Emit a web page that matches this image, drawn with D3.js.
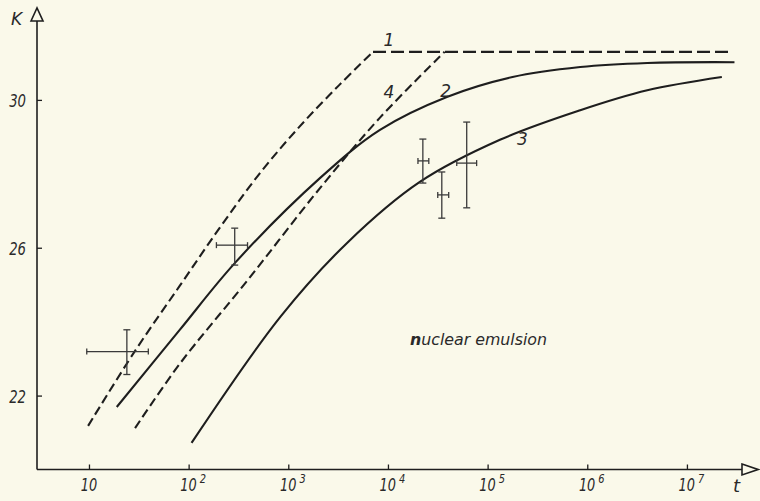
<!DOCTYPE html>
<html>
<head>
<meta charset="utf-8">
<script src="https://cdn.jsdelivr.net/npm/d3@7/dist/d3.min.js"></script>
<style>
  html, body { margin: 0; padding: 0; background: #faf9ea; }
  svg { display: block; }
  text { font-family: "DejaVu Sans", "Liberation Sans", sans-serif; font-style: italic; fill: #2a2a2a; }
</style>
</head>
<body>
<svg id="chart" width="760" height="501"></svg>
<script>
// ---------- data ----------
const xTickValues = [10, 1e2, 1e3, 1e4, 1e5, 1e6, 1e7];
const xTickExps   = ["", "2", "3", "4", "5", "6", "7"];
const yTickValues = [22, 26, 30];

// curve 1 (dashed, rising part up to the knee)
const curve1T = [9.8, 29, 81, 204, 513, 1290, 3240, 7080];
const curve1K = [21.18, 23.21, 24.96, 26.53, 28.0, 29.27, 30.4, 31.3];
// common saturation plateau of the dashed curves
const plateauT = [7080, 2.7e7];
const plateauK = [31.3, 31.3];

// curve 4 (dashed)
const curve4T = [29, 81, 385, 2090, 8320, 3.7e4];
const curve4K = [21.12, 22.85, 25.1, 27.62, 29.52, 31.3];

// curve 2 (solid)
const curve2T = [19, 81, 292, 2090, 8320, 3.9e4, 1.78e5, 8.5e5, 4e6, 3e7];
const curve2K = [21.69, 23.77, 25.59, 27.89, 29.19, 30.08, 30.62, 30.89, 31.0, 31.02];

// curve 3 (solid)
const curve3T = [107, 832, 3890, 2.09e4, 1.33e5, 8.5e5, 4e6, 2.24e7];
const curve3K = [20.72, 24.13, 26.13, 27.78, 28.92, 29.72, 30.26, 30.62];

// measured points with error bars
const ebT   = [24, 290, 22400, 34700, 61700];
const ebTLo = [9.5, 190, 20000, 31600, 49000];
const ebTHi = [39.4, 390, 25700, 40700, 77600];
const ebK   = [23.19, 26.07, 28.35, 27.43, 28.29];
const ebKLo = [22.57, 25.53, 27.75, 26.80, 27.08];
const ebKHi = [23.78, 26.53, 28.94, 28.05, 29.40];

// curve numbers (placed in data coordinates)
const curveLabels = ["1", "4", "2", "3"];
const curveLabelT = [1.02e4, 1.02e4, 3.8e4, 2.24e5];
const curveLabelK = [31.61, 30.21, 30.24, 28.94];

// ---------- layout ----------
const svg = d3.select("#chart");
const ink = "#1e1e1e";

const x = d3.scaleLog().domain([3.08, 4.1e7]).range([38, 748]);
const y = d3.scaleLinear().domain([20, 30]).range([469.5, 99.9]);

const axisX0 = 37, axisY0 = 469.5;

// axes lines with open arrowheads
svg.append("line").attr("x1", axisX0).attr("y1", axisY0).attr("x2", axisX0).attr("y2", 21)
  .attr("stroke", ink).attr("stroke-width", 1.6);
svg.append("path").attr("d", `M${axisX0-6},21 L${axisX0},8 L${axisX0+6},21 Z`)
  .attr("fill", "none").attr("stroke", ink).attr("stroke-width", 1.6);

svg.append("line").attr("x1", axisX0).attr("y1", axisY0).attr("x2", 742).attr("y2", axisY0)
  .attr("stroke", ink).attr("stroke-width", 1.6);
svg.append("path").attr("d", `M742,${axisY0-5.5} L758,${axisY0} L742,${axisY0+5.5} Z`)
  .attr("fill", "none").attr("stroke", ink).attr("stroke-width", 1.6);

// x axis ticks via d3 axis
const gx = svg.append("g").attr("transform", `translate(0,${axisY0})`)
  .call(d3.axisBottom(x).tickValues(xTickValues).tickSize(-5).tickFormat(""));
gx.select(".domain").remove();
gx.selectAll(".tick line").attr("stroke", ink).attr("stroke-width", 1.3);

// tick labels: "10" with a raised exponent, narrowed like the original lettering
const xl = svg.append("g");
xTickValues.forEach((v, i) => {
  const cx = x(v);
  const g = xl.append("g").attr("transform", `translate(${cx},491) scale(0.76,1)`);
  const t = g.append("text").attr("font-size", 17);
  if (xTickExps[i] === "") {
    t.attr("x", 0).attr("text-anchor", "middle").text("10");
  } else {
    t.attr("x", -11);
    t.append("tspan").text("10");
    t.append("tspan").attr("dx", 4).attr("dy", -8).attr("font-size", 13).text(xTickExps[i]);
  }
});

// y axis ticks via d3 axis
const gy = svg.append("g").attr("transform", `translate(${axisX0},0)`)
  .call(d3.axisLeft(y).tickValues(yTickValues).tickSize(-5).tickFormat(""));
gy.select(".domain").remove();
gy.selectAll(".tick line").attr("stroke", ink).attr("stroke-width", 1.3);
yTickValues.forEach(v => {
  svg.append("g").attr("transform", `translate(26,${y(v) + 7}) scale(0.78,1)`)
    .append("text").attr("text-anchor", "end").attr("font-size", 17)
    .text(d3.format("d")(v));
});

// axis names
svg.append("text").attr("x", 11).attr("y", 25).attr("font-size", 17).text("K");
svg.append("text").attr("x", 733).attr("y", 492).attr("font-size", 18).text("t");

// ---------- curves ----------
const zip = (T, K) => T.map((t, i) => ({ t, K: K[i] }));
const smooth = d3.line().x(d => x(d.t)).y(d => y(d.K)).curve(d3.curveCatmullRom.alpha(0.5));
const straight = d3.line().x(d => x(d.t)).y(d => y(d.K));

function draw(gen, data, dash, w) {
  svg.append("path").attr("d", gen(data)).attr("fill", "none")
    .attr("stroke", ink).attr("stroke-width", w)
    .attr("stroke-dasharray", dash).attr("stroke-linecap", "butt");
}

draw(smooth, zip(curve1T, curve1K), "9,4.5", 2.1);
draw(straight, zip(plateauT, plateauK), "13,5", 2.2);
draw(smooth, zip(curve4T, curve4K), "9,4.5", 2.1);
draw(smooth, zip(curve2T, curve2K), null, 2.1);
draw(smooth, zip(curve3T, curve3K), null, 2.1);

// ---------- error bars ----------
const eb = svg.append("g").attr("stroke", "#3a3a3a").attr("stroke-width", 1.3).attr("fill", "none");
ebT.forEach((t, i) => {
  const cx = x(t), cy = y(ebK[i]);
  const x0 = x(ebTLo[i]), x1 = x(ebTHi[i]);
  const y0 = y(ebKLo[i]), y1 = y(ebKHi[i]);
  eb.append("line").attr("x1", x0).attr("x2", x1).attr("y1", cy).attr("y2", cy);
  eb.append("line").attr("x1", cx).attr("x2", cx).attr("y1", y0).attr("y2", y1);
  eb.append("line").attr("x1", cx - 3.5).attr("x2", cx + 3.5).attr("y1", y0).attr("y2", y0);
  eb.append("line").attr("x1", cx - 3.5).attr("x2", cx + 3.5).attr("y1", y1).attr("y2", y1);
  eb.append("line").attr("x1", x0).attr("x2", x0).attr("y1", cy - 3).attr("y2", cy + 3);
  eb.append("line").attr("x1", x1).attr("x2", x1).attr("y1", cy - 3).attr("y2", cy + 3);
});

// ---------- labels ----------
curveLabels.forEach((s, i) => {
  svg.append("text").attr("x", x(curveLabelT[i])).attr("y", y(curveLabelK[i]) + 6)
    .attr("text-anchor", "middle").attr("font-size", 17).text(s);
});

const ne = svg.append("text").attr("x", 410).attr("y", 345).attr("font-size", 16)
  .attr("textLength", 137).attr("lengthAdjust", "spacingAndGlyphs");
ne.append("tspan").attr("font-weight", "bold").text("n");
ne.append("tspan").text("uclear emulsion");
</script>
</body>
</html>
